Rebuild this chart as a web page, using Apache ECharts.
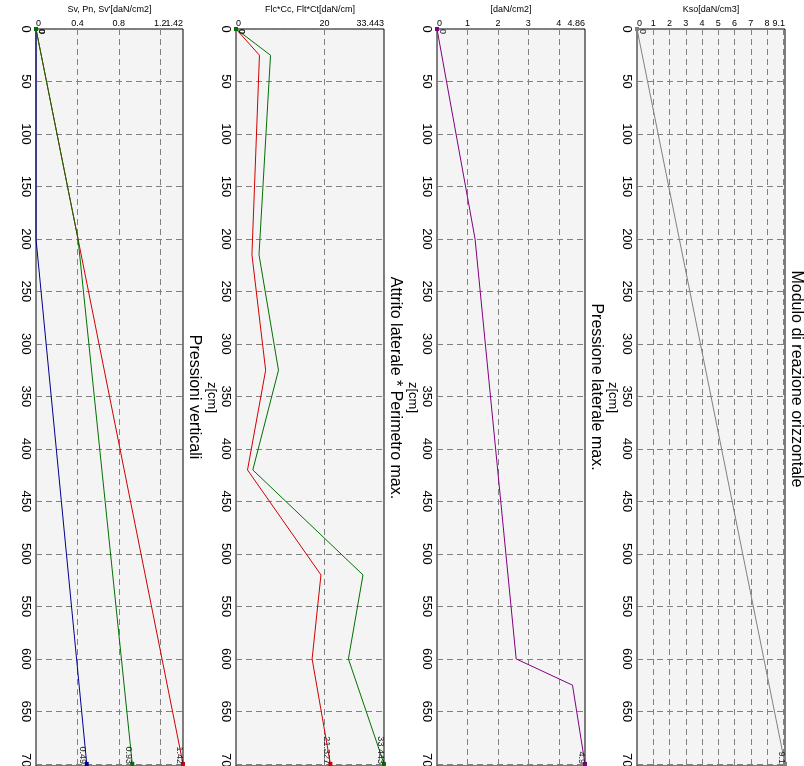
<!DOCTYPE html>
<html>
<head>
<meta charset="utf-8">
<title>Diagrammi palo</title>
<script src="https://cdn.jsdelivr.net/npm/echarts@6/dist/echarts.min.js"></script>
<style>
html, body { margin: 0; padding: 0; background: #fff; }
#chart { width: 804px; height: 766px; }
</style>
</head>
<body>
<div id="chart"></div>
<script>
// profondita' z [cm] e valori

// Pressioni verticali
const svZ = [0, 700];
const svVal = [0, 1.42];
const pnZ = [0, 200, 700];
const pnVal = [0, 0, 0.49];
const svEffZ = [0, 200, 700];
const svEffVal = [0, 0.406, 0.93];

// Attrito laterale * Perimetro max.
const attrZ = [0, 25, 215, 325, 420, 520, 600, 700];
const flcVal = [0, 5.3, 3.6, 6.7, 2.6, 19.2, 17.2, 21.327];
const fltVal = [0, 7.8, 5.2, 9.6, 3.8, 28.7, 25.4, 33.443];

// Pressione laterale max.
const plZ = [0, 200, 600, 625, 700];
const plVal = [0, 1.25, 2.6, 4.45, 4.86];

// Modulo di reazione orizzontale
const ksZ = [0, 700];
const ksVal = [0, 9.1];

// assi orizzontali (in alto)
const axisNames = ["Sv, Pn, Sv'[daN/cm2]", 'Flc*Cc, Flt*Ct[daN/cm]', '[daN/cm2]', 'Kso[daN/cm3]'];
const axisMax = [1.42, 33.443, 4.86, 9.1];
const axisStep = [0.4, 20, 1, 1];
const titles = ['Pressioni verticali', 'Attrito laterale * Perimetro max.', 'Pressione laterale max.', 'Modulo di reazione orizzontale'];

const gridLeft = [36, 236, 437, 637];
const gridWidth = [147, 148, 148, 148];
const titleY = [397, 388, 387, 379];

const chart = echarts.init(document.getElementById('chart'));

function makeSeries(idx, xs, zs, color, endText) {
  const data = xs.map((x, i) => {
    const last = i === xs.length - 1;
    if (i === 0 || last) {
      return {
        value: [x, zs[i]],
        label: {
          show: true,
          position: last ? 'left' : 'right',
          distance: last ? 2 : 3,
          formatter: last ? endText : '0'
        }
      };
    }
    return { value: [x, zs[i]], symbol: 'none' };
  });
  return {
    type: 'line',
    xAxisIndex: idx,
    yAxisIndex: idx,
    data: data,
    symbol: 'rect',
    symbolSize: 4,
    showSymbol: true,
    lineStyle: { color: color, width: 1 },
    itemStyle: { color: color },
    label: { show: false, rotate: -90, fontSize: 9, color: '#222', fontFamily: 'Liberation Sans' },
    emphasis: { disabled: true },
    animation: false,
    z: 3
  };
}

const labelFont = { fontSize: 9, color: '#000', fontFamily: 'Liberation Sans' };
const grids = [], xAxes = [], maxAxes = [], yAxes = [], graphics = [];
for (let i = 0; i < 4; i++) {
  const max = axisMax[i], step = axisStep[i];
  grids.push({
    left: gridLeft[i], top: 29, width: gridWidth[i], height: 737,
    containLabel: false, outerBoundsMode: 'none',
    show: true, backgroundColor: '#f4f4f4', borderColor: '#000', borderWidth: 1
  });
  xAxes.push({
    type: 'value', gridIndex: i, position: 'top',
    min: 0, max: max, interval: step,
    name: axisNames[i], nameLocation: 'middle', nameGap: 8,
    nameTextStyle: labelFont,
    axisLine: { show: false }, axisTick: { show: false },
    axisLabel: Object.assign({}, labelFont, {
      margin: 1, showMaxLabel: false, showMinLabel: true, alignMinLabel: 'left',
      // la tacca troppo vicina al massimo non viene scritta
      formatter: v => (max - v < step / 2) ? '' : String(+v.toFixed(3))
    }),
    splitLine: { show: true, lineStyle: { color: '#808080', type: [6, 4], width: 1 } }
  });
  // asse di appoggio: scrive solo il valore massimo, allineato al bordo destro
  maxAxes.push({
    type: 'value', gridIndex: i, position: 'top',
    min: 0, max: max, interval: max,
    axisLine: { show: false }, axisTick: { show: false }, splitLine: { show: false },
    axisLabel: Object.assign({}, labelFont, {
      margin: 1, showMaxLabel: true, showMinLabel: false, alignMaxLabel: 'right',
      formatter: v => (v === max ? String(max) : '')
    })
  });
  yAxes.push({
    type: 'value', gridIndex: i, inverse: true,
    min: 0, max: 702, interval: 50,
    name: i === 0 ? '' : 'z[cm]', nameLocation: 'middle', nameGap: 16, nameRotate: -90,
    nameTextStyle: { fontSize: 13, color: '#000', fontFamily: 'Liberation Sans' },
    axisLine: { show: false }, axisTick: { show: false },
    axisLabel: { fontSize: 13, color: '#000', rotate: -90, margin: 4, showMaxLabel: false, fontFamily: 'Liberation Sans' },
    splitLine: { show: true, lineStyle: { color: '#808080', type: [6, 4], width: 1 } }
  });
  graphics.push({
    type: 'text',
    x: gridLeft[i] + gridWidth[i] + 11,
    y: titleY[i],
    rotation: -Math.PI / 2,
    style: {
      text: titles[i],
      font: '16px "Liberation Sans"',
      fill: '#000',
      align: 'center',
      verticalAlign: 'middle'
    }
  });
}

chart.setOption({
  backgroundColor: '#fff',
  animation: false,
  grid: grids,
  xAxis: xAxes.concat(maxAxes),
  yAxis: yAxes,
  graphic: graphics,
  series: [
    makeSeries(0, svVal, svZ, '#d00000', '1.42'),
    makeSeries(0, pnVal, pnZ, '#00008b', '0.49'),
    makeSeries(0, svEffVal, svEffZ, '#007000', '0.93'),
    makeSeries(1, flcVal, attrZ, '#d00000', '21.327'),
    makeSeries(1, fltVal, attrZ, '#007000', '33.443'),
    makeSeries(2, plVal, plZ, '#800080', '4.9'),
    makeSeries(3, ksVal, ksZ, '#808080', '9.1')
  ]
});
</script>
</body>
</html>
